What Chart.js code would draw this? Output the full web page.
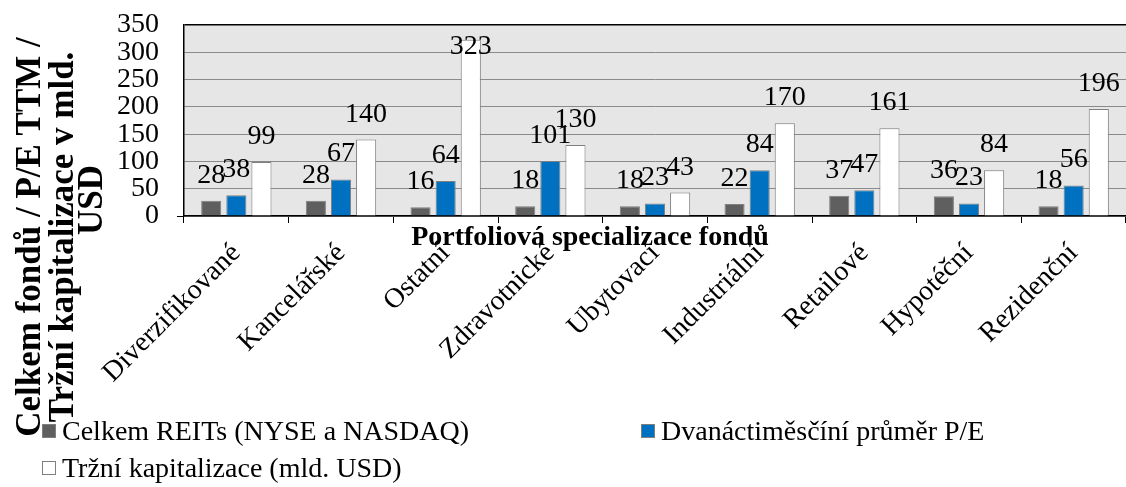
<!DOCTYPE html>
<html><head><meta charset="utf-8">
<script src="https://cdn.jsdelivr.net/npm/chart.js@4"></script>
<style>
html,body{margin:0;padding:0;background:#fff;}
#wrap{position:relative;width:1126px;height:487px;overflow:hidden;}
#c{position:absolute;left:0;top:0;}
#legend{position:absolute;left:0;top:0;width:1126px;height:487px;pointer-events:none;font-family:"Liberation Serif","Times New Roman",serif;font-size:28px;color:#000;}
.li{position:absolute;display:flex;align-items:center;white-space:nowrap;height:32px;line-height:32px;}
.sw{width:14px;height:14px;box-sizing:border-box;border:1px solid #7f7f7f;margin-right:6px;flex:none;}
</style></head>
<body><div id="wrap"><canvas id="c" width="1126" height="487"></canvas><div id="legend"></div></div>
<script>
const categories = ["Diverzifikované","Kancelářské","Ostatní","Zdravotnické","Ubytovací","Industriální","Retailové","Hypotéční","Rezidenční"];
const seriesNames = ["Celkem REITs (NYSE a NASDAQ)","Dvanáctiměsčíní průměr P/E","Tržní kapitalizace (mld. USD)"];
const reitsCount = [28,28,16,18,18,22,37,36,18];
const peTTM = [38,67,64,101,23,84,47,23,56];
const marketCap = [99,140,323,130,43,170,161,84,196];
const yMin = 0, yMax = 350, yStep = 50;
const xTitle = "Portfoliová specializace fondů";
const yTitleLines = ["Celkem fondů / P/E TTM /","Tržní kapitalizace v mld.","USD"];

const SERIF = '"Liberation Serif","Times New Roman",serif';

const bgPlugin = {
  id:'plotBg',
  beforeDraw(chart){
    const {ctx, chartArea:a} = chart;
    ctx.save(); ctx.fillStyle='#e6e6e6';
    ctx.fillRect(a.left,a.top,a.right-a.left,a.bottom-a.top);
    ctx.restore();
  }
};
const labelPlugin = {
  id:'valLabels',
  afterDatasetsDraw(chart){
    const {ctx, chartArea:a} = chart;
    ctx.save();
    ctx.font = '28px '+SERIF; ctx.fillStyle='#000';
    ctx.textAlign='center'; ctx.textBaseline='alphabetic';
    chart.data.datasets.forEach((ds,i)=>{
      const meta = chart.getDatasetMeta(i);
      meta.data.forEach((bar,j)=>{
        const y = Math.max(bar.y-18, a.top+29);
        ctx.fillText(String(ds.data[j]), bar.x, y);
      });
    });
    ctx.restore();
  }
};
const titlePlugin = {
  id:'axisTitles',
  afterDraw(chart){
    const {ctx} = chart;
    ctx.save();
    ctx.fillStyle='#000';
    ctx.font='bold 28px '+SERIF;
    ctx.textAlign='center'; ctx.textBaseline='alphabetic';
    ctx.fillText(xTitle, 590, 245);
    ctx.font='bold 35px '+SERIF;
    const pos = [[40,237],[73,237],[102,200]];
    yTitleLines.forEach((t,i)=>{
      ctx.save(); ctx.translate(pos[i][0],pos[i][1]); ctx.rotate(-Math.PI/2);
      ctx.fillText(t,0,0); ctx.restore();
    });
    ctx.restore();
  }
};

const chart = new Chart(document.getElementById('c'), {
  type:'bar',
  data:{
    labels:categories,
    datasets:[
      {label:seriesNames[0],data:reitsCount,backgroundColor:'#5f5f5f',borderColor:'#7f7f7f',borderWidth:1},
      {label:seriesNames[1],data:peTTM,backgroundColor:'#0070c0',borderColor:'#7f7f7f',borderWidth:1},
      {label:seriesNames[2],data:marketCap,backgroundColor:'#ffffff',borderColor:'#7f7f7f',borderWidth:1}
    ]
  },
  options:{
    responsive:false, animation:false,
    layout:{padding:{top:25,left:0,right:0,bottom:0}},
    datasets:{bar:{categoryPercentage:0.72,barPercentage:0.8}},
    plugins:{legend:{display:false},tooltip:{enabled:false}},
    scales:{
      x:{
        grid:{offset:true,drawOnChartArea:false,tickLength:7,tickColor:'#000',color:'#000'},
        border:{color:'#000',width:1.5},
        ticks:{autoSkip:false,minRotation:45,maxRotation:45,color:'#000',font:{family:SERIF,size:28},padding:14},
        afterFit(s){ s.height = 487-216; }
      },
      y:{
        min:yMin,max:yMax,
        ticks:{stepSize:yStep,color:'#000',font:{family:SERIF,size:28,lineHeight:0.8},padding:18},
        grid:{color:(c)=>c.tick && c.tick.value===yMax?'#000':'#8a8a8a',lineWidth:(c)=>c.tick && c.tick.value===yMax?1.5:1,
              tickLength:7,tickColor:(c)=>c.tick && c.tick.value===yMin?'#000':'rgba(0,0,0,0)'},
        border:{color:'#000',width:1.5},
        afterFit(s){ s.width = 184; s.paddingTop = 0; s.paddingBottom = 0; }
      }
    }
  },
  plugins:[bgPlugin,labelPlugin,titlePlugin]
});

// HTML legend built from the chart's datasets
const legendPos = [[42,431],[641,431],[42,468]];
const lg = document.getElementById('legend');
chart.data.datasets.forEach((ds,i)=>{
  const d = document.createElement('div'); d.className='li';
  d.style.left = legendPos[i][0]+'px'; d.style.top = (legendPos[i][1]-16)+'px';
  const sw = document.createElement('span'); sw.className='sw';
  sw.style.background = ds.backgroundColor; sw.style.borderColor = ds.borderColor;
  const tx = document.createElement('span'); tx.textContent = ds.label;
  d.appendChild(sw); d.appendChild(tx); lg.appendChild(d);
});
</script>
</body></html>
